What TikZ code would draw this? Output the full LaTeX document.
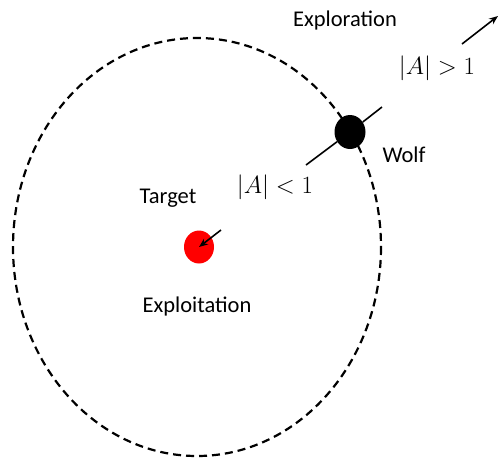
\documentclass[tikz,border=0pt]{standalone}
\usepackage{fontspec}
\setmainfont{Carlito}
\usetikzlibrary{arrows.meta,shapes.geometric}
\begin{document}
\begin{tikzpicture}[x=1pt,y=-1pt,
  lbl/.style={font=\fontsize{22.5}{26}\selectfont},
  mlbl/.style={font=\fontsize{25}{29}\selectfont},
  orbit/.style={draw, line width=2.2pt, dash pattern=on 8pt off 5pt},
  link/.style={draw, line width=1.6pt},
  arr/.style={link, -{Stealth[length=9pt,width=7pt]}}]
\useasboundingbox (0,0) rectangle (499,459);
\fill[white] (0,0) rectangle (499,459);
\draw[orbit] (197,247) ellipse [x radius=184, y radius=209];
\node[ellipse, fill=black, minimum width=31pt, minimum height=34pt, inner sep=0pt] (wolf) at (350,132) {};
\node[ellipse, fill=red, minimum width=30pt, minimum height=33pt, inner sep=0pt] (target) at (199,247) {};
\coordinate (w1) at (306,165);
\coordinate (w2) at (382,107);
\coordinate (a1) at (462,44);
\coordinate (a2) at (498,16);
\coordinate (t1) at (221,230);
\draw[link] (w1) -- (wolf) -- (w2);
\draw[arr] (a1) -- (a2);
\draw[arr] (t1) -- (target.center);
\node[lbl] (explor) at (345,20) {Exploration};
\node[mlbl] (gt) at (437,68) {$|A| > 1$};
\node[lbl] (wolflbl) at (404,155) {Wolf};
\node[mlbl] (lt) at (275,187) {$|A| < 1$};
\node[lbl] (targetlbl) at (168,198) {Target};
\node[lbl] (exploit) at (197,306) {Exploitation};
\end{tikzpicture}
\end{document}
